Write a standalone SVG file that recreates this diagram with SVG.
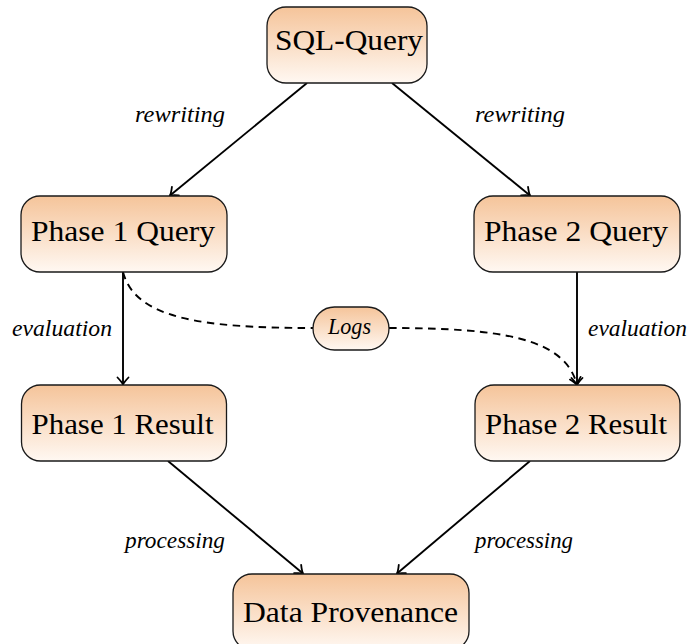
<svg xmlns="http://www.w3.org/2000/svg" width="689" height="644" viewBox="0 0 689 644">
  <defs>
    <linearGradient id="peach" x1="0" y1="0" x2="0" y2="1">
      <stop offset="0" stop-color="#f5c49a"/>
      <stop offset="1" stop-color="#fff8f2"/>
    </linearGradient>
    <marker id="tip" markerUnits="userSpaceOnUse" viewBox="-9 -7 11 14" refX="0" refY="0" markerWidth="11" markerHeight="14" orient="auto" overflow="visible">
      <path d="M-7,-5.5 Q-2.5,-1.2 0,0 Q-2.5,1.2 -7,5.5" fill="none" stroke="#000" stroke-width="1.8" stroke-linecap="round"/>
    </marker>
  </defs>
  <style>
    .box { fill: url(#peach); stroke: #1a1a1a; stroke-width: 1.3; }
    .name { font-family: "Liberation Serif", "DejaVu Serif", serif; font-size: 30px; fill: #000; text-anchor: middle; }
    .lbl { font-family: "Liberation Serif", "DejaVu Serif", serif; font-size: 23px; font-style: italic; fill: #000; text-anchor: middle; }
    .edge { fill: none; stroke: #000; stroke-width: 1.9; marker-end: url(#tip); }
    .dash { fill: none; stroke: #000; stroke-width: 1.9; stroke-dasharray: 7.5 5.5; }
  </style>

  <!-- connectors -->
  <g id="connectors">
    <line class="edge" x1="307" y1="83" x2="170" y2="195.5"/>
    <line class="edge" x1="392" y1="83" x2="530" y2="195.5"/>
    <line class="edge" x1="123" y1="272" x2="123" y2="384.5"/>
    <line class="edge" x1="577" y1="272" x2="577" y2="385"/>
    <line class="edge" x1="168" y1="461" x2="303" y2="573.5"/>
    <line class="edge" x1="530" y1="461" x2="397" y2="573.5"/>
    <path class="dash" d="M123,272 C135,318 200,328 313,328"/>
    <path class="dash" d="M389,328 C502,328 565,338 577,385" marker-end="url(#tip)"/>

    <text class="lbl" x="180" y="122" textLength="90" lengthAdjust="spacingAndGlyphs">rewriting</text>
    <text class="lbl" x="520" y="122" textLength="90" lengthAdjust="spacingAndGlyphs">rewriting</text>
    <text class="lbl" x="62" y="336" textLength="100" lengthAdjust="spacingAndGlyphs">evaluation</text>
    <text class="lbl" x="637.5" y="336" textLength="99" lengthAdjust="spacingAndGlyphs">evaluation</text>
    <text class="lbl" x="175" y="548" textLength="100" lengthAdjust="spacingAndGlyphs">processing</text>
    <text class="lbl" x="524" y="548" textLength="98" lengthAdjust="spacingAndGlyphs">processing</text>
  </g>

  <!-- nodes -->
  <g id="sql-query">
    <rect class="box" x="267" y="7" width="160" height="76" rx="19"/>
    <text class="name" x="349" y="50" textLength="148" lengthAdjust="spacingAndGlyphs">SQL-Query</text>
  </g>
  <g id="phase1-query">
    <rect class="box" x="21" y="196" width="206" height="76" rx="19"/>
    <text class="name" x="123" y="241" textLength="184" lengthAdjust="spacingAndGlyphs">Phase 1 Query</text>
  </g>
  <g id="phase2-query">
    <rect class="box" x="474" y="196" width="206" height="76" rx="19"/>
    <text class="name" x="576" y="241" textLength="184" lengthAdjust="spacingAndGlyphs">Phase 2 Query</text>
  </g>
  <g id="logs">
    <rect class="box" x="313" y="307" width="76" height="43" rx="21.5"/>
    <text class="lbl" x="349.5" y="334" textLength="43" lengthAdjust="spacingAndGlyphs">Logs</text>
  </g>
  <g id="phase1-result">
    <rect class="box" x="21.5" y="385" width="205" height="76" rx="19"/>
    <text class="name" x="122.5" y="434" textLength="182" lengthAdjust="spacingAndGlyphs">Phase 1 Result</text>
  </g>
  <g id="phase2-result">
    <rect class="box" x="475" y="385" width="205" height="76" rx="19"/>
    <text class="name" x="576" y="434" textLength="182" lengthAdjust="spacingAndGlyphs">Phase 2 Result</text>
  </g>
  <g id="data-provenance">
    <rect class="box" x="233" y="574" width="236" height="76" rx="19"/>
    <text class="name" x="350.5" y="622" textLength="215" lengthAdjust="spacingAndGlyphs">Data Provenance</text>
  </g>
</svg>
